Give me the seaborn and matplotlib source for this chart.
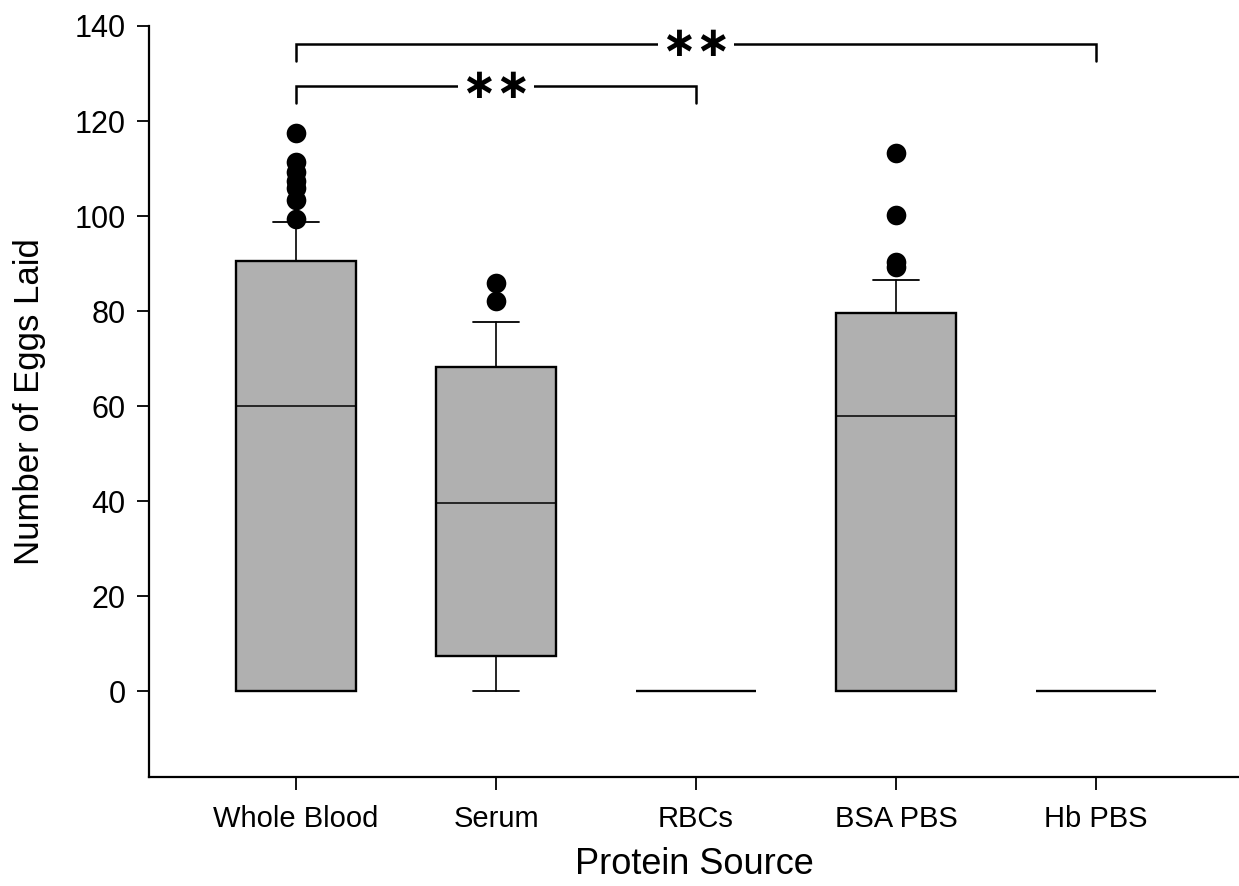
import numpy as np
import pandas as pd
import matplotlib
matplotlib.use("Agg")
import matplotlib.pyplot as plt
import seaborn as sns

# Box summary values (10th/90th percentile whiskers)
groups = ["Whole Blood", "Serum", "RBCs", "BSA PBS", "Hb PBS"]
medians = [60.0, 39.6, 0.0, 58.0, 0.0]
q1 = [0.0, 7.4, 0.0, 0.0, 0.0]
q3 = [90.6, 68.3, 0.0, 79.6, 0.0]
whisk_lo = [0.0, 0.0, 0.0, 0.0, 0.0]
whisk_hi = [98.8, 77.8, 0.0, 86.6, 0.0]

# outlying points beyond the whiskers
outliers_wb = [117.4, 111.3, 109.2, 107.4, 105.9, 103.3, 99.3]
outliers_serum = [86.0, 82.2]
outliers_bsa = [113.2, 100.2, 90.3, 89.3]

# significance brackets: (group a, group b, label)
comparisons = [("Whole Blood", "RBCs", "\u2217\u2217"),
               ("Whole Blood", "Hb PBS", "\u2217\u2217")]

sns.set_style("ticks")
plt.rcParams["font.family"] = ["Liberation Sans", "DejaVu Sans"]
plt.rcParams["text.color"] = "black"
plt.rcParams["axes.labelcolor"] = "black"
plt.rcParams["xtick.color"] = "black"
plt.rcParams["ytick.color"] = "black"

fig, ax = plt.subplots(figsize=(12.39, 8.86), dpi=100)
fig.subplots_adjust(left=0.1203, right=1.0, bottom=0.123, top=0.9707)

stats = []
for i, g in enumerate(groups):
    stats.append(dict(label=g, med=medians[i], q1=q1[i], q3=q3[i],
                      whislo=whisk_lo[i], whishi=whisk_hi[i], fliers=[]))

ax.bxp(stats, positions=np.arange(len(groups)), widths=0.6, capwidths=0.23,
       patch_artist=True, showfliers=False,
       boxprops=dict(facecolor="#b0b0b0", edgecolor="black", linewidth=1.7),
       medianprops=dict(color="black", linewidth=1.1),
       whiskerprops=dict(color="black", linewidth=1.2),
       capprops=dict(color="black", linewidth=1.3))

out_df = pd.DataFrame({
    "pos": [0] * len(outliers_wb) + [1] * len(outliers_serum) + [3] * len(outliers_bsa),
    "eggs": outliers_wb + outliers_serum + outliers_bsa,
})
sns.scatterplot(data=out_df, x="pos", y="eggs", ax=ax, color="black",
                s=200, linewidth=0, zorder=5)

# brackets
for (a, b, lab), y, drop in zip(comparisons, [127.4, 136.3], [3.6, 3.6]):
    xa, xb = groups.index(a), groups.index(b)
    ax.plot([xa, xa, xb, xb], [y - drop, y, y, y - drop], color="black",
            linewidth=1.8, solid_joinstyle="miter")
    ax.text((xa + xb) / 2, y, lab, ha="center", va="center",
            fontsize=30, family="DejaVu Sans", fontweight="bold",
            bbox=dict(facecolor="white", edgecolor="none", pad=2))

ax.set_xlim(-0.735, 4.715)
ax.set_ylim(-18, 140)
ax.set_yticks(np.arange(0, 141, 20))
ax.set_xticks(np.arange(len(groups)))
ax.set_xticklabels(groups)
ax.tick_params(axis="both", labelsize=21, length=9, width=1.3, color="black",
               direction="out", pad=8)
ax.tick_params(axis="y", labelsize=22)
ax.tick_params(axis="x", pad=11)
ax.set_xlabel("Protein Source", fontsize=26, labelpad=10)
ax.set_ylabel("Number of Eggs Laid", fontsize=25, labelpad=20)
for sp in ["left", "bottom"]:
    ax.spines[sp].set_linewidth(1.6)
    ax.spines[sp].set_color("black")
sns.despine(ax=ax)

fig.savefig("out.png", dpi=100)
